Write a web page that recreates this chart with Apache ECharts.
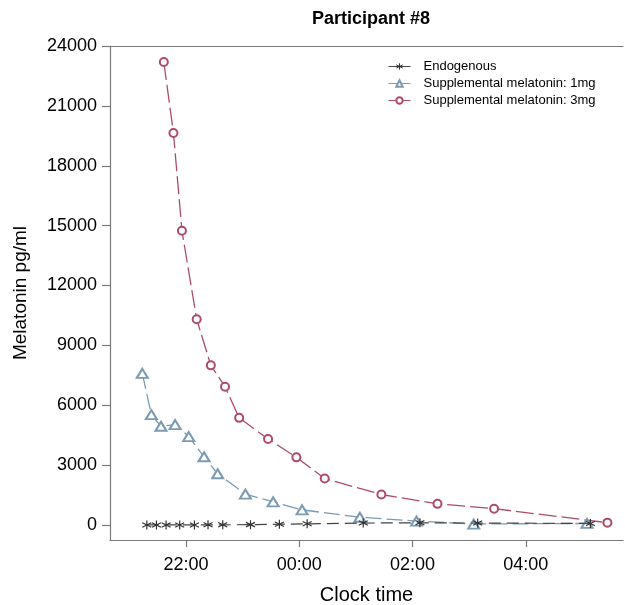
<!DOCTYPE html>
<html>
<head>
<meta charset="utf-8">
<script src="https://cdn.jsdelivr.net/npm/echarts@6/dist/echarts.min.js"></script>
<style>html,body{margin:0;padding:0;background:#fff}#c{width:625px;height:605px}</style>
</head>
<body>
<div id="c"></div>
<script>
// Times in hours relative to midnight (negative = before midnight)
const endoTimes = [-2.69, -2.52, -2.35, -2.11, -1.85, -1.61, -1.35, -0.86, -0.35, 0.14, 1.13, 2.13, 3.15, 5.14];
const endoValues = [5, 5, 5, 5, 5, 10, 10, 20, 40, 60, 100, 110, 100, 80];
const mg1Times = [-2.77, -2.61, -2.44, -2.19, -1.95, -1.68, -1.44, -0.95, -0.46, 0.05, 1.07, 2.07, 3.08, 5.08];
const mg1Values = [7600, 5530, 4950, 5030, 4430, 3420, 2570, 1550, 1160, 760, 390, 200, 50, 80];
const mg3Times = [-2.39, -2.22, -2.07, -1.81, -1.56, -1.31, -1.06, -0.55, -0.05, 0.45, 1.45, 2.44, 3.44, 5.44];
const mg3Values = [23200, 19640, 14740, 10310, 8000, 6930, 5370, 4310, 3390, 2330, 1530, 1060, 820, 120];
const yTicks = [0, 3000, 6000, 9000, 12000, 15000, 18000, 21000, 24000];
const xTicks = [-2, 0, 2, 4];
const xTickLabels = ['22:00', '00:00', '02:00', '04:00'];
const seriesNames = ['Endogenous', 'Supplemental melatonin: 1mg', 'Supplemental melatonin: 3mg'];

function pairs(t, v) { return t.map((x, i) => [x, v[i]]); }

const FONT = 'Liberation Sans, Arial, sans-serif';
const axisGray = '#7a7a7a';
const starPath = 'path://M0,-5L0,5M-4.33,-2.5L4.33,2.5M-4.33,2.5L4.33,-2.5';

const chart = echarts.init(document.getElementById('c'), null, {renderer: 'canvas'});
chart.setOption({
  animation: false,
  backgroundColor: '#fff',
  title: {
    text: 'Participant #8',
    left: 366, top: 5, textAlign: 'center',
    textStyle: {fontFamily: FONT, fontSize: 18, fontWeight: 'bold', color: '#000'}
  },
  legend: {
    orient: 'vertical',
    left: 383, top: 55,
    itemWidth: 22, itemHeight: 8, itemGap: 4,
    lineStyle: {type: 'solid', width: 1},
    itemStyle: {borderWidth: 1},
    textStyle: {fontFamily: FONT, fontSize: 13, color: '#000', padding: [0, 0, 0, 8]},
    data: seriesNames
  },
  grid: {left: 110, right: 2, top: 46, bottom: 65, outerBoundsMode: 'none', containLabel: false},
  xAxis: [{
    type: 'value', min: -3.34, max: 5.715,
    name: 'Clock time', nameLocation: 'middle', nameGap: 45,
    nameTextStyle: {fontFamily: FONT, fontSize: 20, color: '#000'},
    axisLine: {show: true, onZero: false, lineStyle: {color: axisGray, width: 1.2}},
    axisTick: {show: true, length: 7, lineStyle: {color: axisGray, width: 1.2}, customValues: xTicks},
    axisLabel: {fontFamily: FONT, fontSize: 18, color: '#000', margin: 16, customValues: xTicks,
      formatter: v => xTickLabels[xTicks.indexOf(v)] || ''},
    splitLine: {show: false}
  }, {
    type: 'value', position: 'top', min: -3.34, max: 5.715,
    axisLine: {show: true, onZero: false, lineStyle: {color: axisGray, width: 1.2}},
    axisTick: {show: false}, axisLabel: {show: false}, splitLine: {show: false}
  }],
  yAxis: {
    type: 'value', min: -750, max: 24000,
    name: 'Melatonin pg/ml', nameLocation: 'middle', nameGap: 80,
    nameTextStyle: {fontFamily: FONT, fontSize: 19, color: '#000'},
    axisLine: {show: true, onZero: false, lineStyle: {color: axisGray, width: 1.2}},
    axisTick: {show: true, length: 8, lineStyle: {color: axisGray, width: 1.2}, customValues: yTicks},
    axisLabel: {fontFamily: FONT, fontSize: 18, color: '#000', margin: 13, customValues: yTicks,
      formatter: v => String(v)},
    splitLine: {show: false}
  },
  series: [{
    name: seriesNames[0], type: 'line', data: pairs(endoTimes, endoValues),
    symbol: starPath, symbolSize: 9,
    itemStyle: {color: '#333', borderColor: '#333', borderWidth: 1.2},
    lineStyle: {color: '#444', width: 1.2, type: [12, 6]}, z: 4
  }, {
    name: seriesNames[1], type: 'line', data: pairs(mg1Times, mg1Values),
    symbol: 'emptyTriangle', symbolSize: [11, 9],
    itemStyle: {color: '#7b9bb4', borderColor: '#7b9bb4', borderWidth: 1.5},
    lineStyle: {color: '#7b9bb4', width: 1.3, type: [16, 5]}, z: 3
  }, {
    name: seriesNames[2], type: 'line', data: pairs(mg3Times, mg3Values),
    symbol: 'emptyCircle', symbolSize: 8,
    itemStyle: {color: '#ad4c69', borderColor: '#ad4c69', borderWidth: 1.5},
    lineStyle: {color: '#ad4c69', width: 1.3, type: [18, 5]}, z: 2
  }]
});
</script>
</body>
</html>
